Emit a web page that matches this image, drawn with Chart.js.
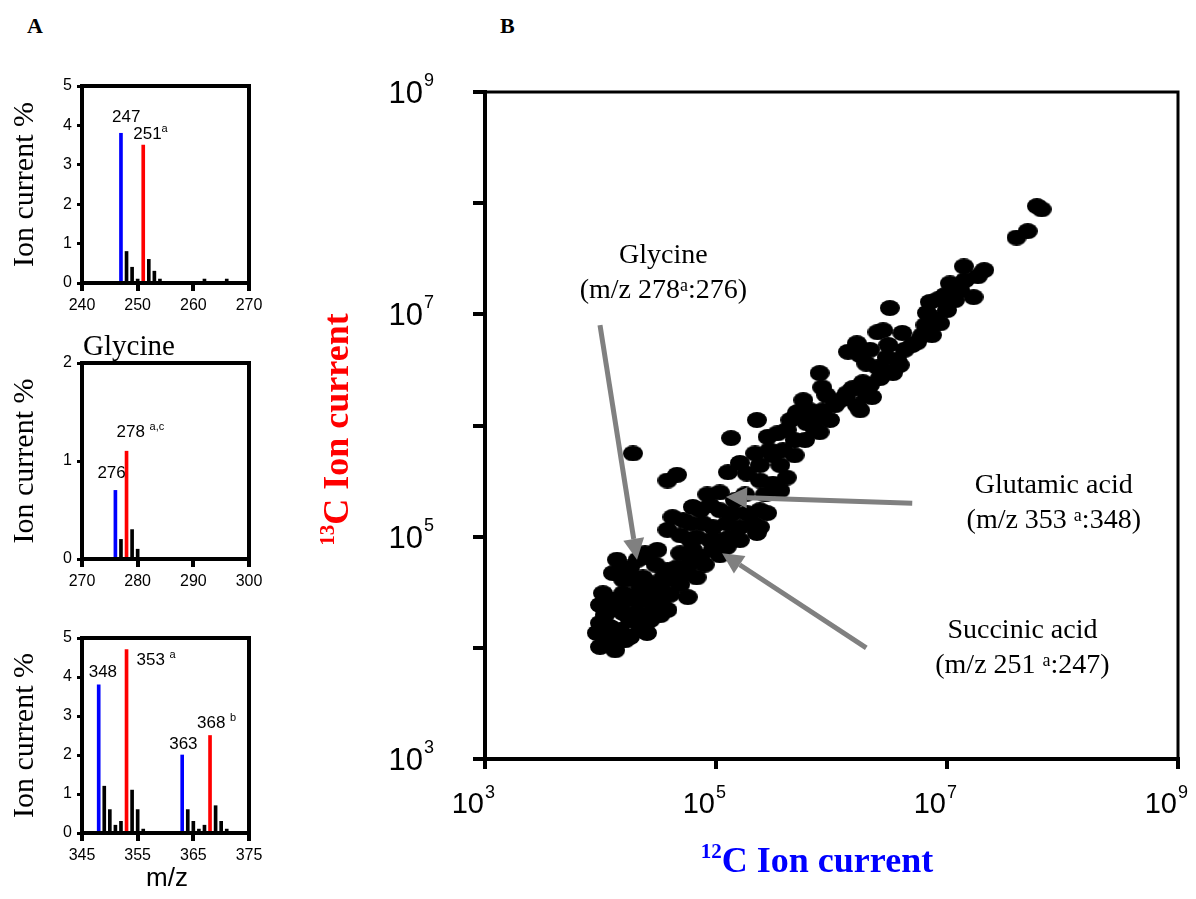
<!DOCTYPE html>
<html lang="en">
<head>
<meta charset="UTF-8" />
<title>12C / 13C ion current</title>
<style>
  body { margin: 0; background: #fff; width: 1196px; height: 899px; overflow: hidden; position: relative; }
  canvas { position: absolute; }
  .panel { position: absolute; font: bold 22px "Liberation Serif", "Times New Roman", serif; color: #000; }
</style>
</head>
<body>
<div class="panel" style="left:27px;top:13px">A</div>
<div class="panel" style="left:500px;top:13px">B</div>
<canvas id="a1" width="280" height="260" style="left:0;top:60px"></canvas>
<canvas id="a2" width="280" height="270" style="left:0;top:320px"></canvas>
<canvas id="a3" width="280" height="299" style="left:0;top:600px"></canvas>
<canvas id="b" width="906" height="899" style="left:290px;top:0"></canvas>

<script src="https://cdn.jsdelivr.net/npm/chart.js"></script>
<script>
// ---- panel A: isotope spectra (m/z, ion current %) ----
const succBlueMz = [247], succBlueY = [3.8];
const succRedMz = [251], succRedY = [3.5];
const succOtherMz = [248, 249, 250, 252, 253, 254, 262, 266];
const succOtherY = [0.8, 0.4, 0.1, 0.6, 0.3, 0.1, 0.1, 0.1];

const glyBlueMz = [276], glyBlueY = [0.7];
const glyRedMz = [278], glyRedY = [1.1];
const glyOtherMz = [277, 279, 280];
const glyOtherY = [0.2, 0.3, 0.1];

const gluBlueMz = [348, 363], gluBlueY = [3.8, 2.0];
const gluRedMz = [353, 368], gluRedY = [4.7, 2.5];
const gluOtherMz = [349, 350, 351, 352, 354, 355, 356, 364, 365, 366, 367, 369, 370, 371];
const gluOtherY = [1.2, 0.6, 0.2, 0.3, 1.1, 0.6, 0.1, 0.6, 0.3, 0.1, 0.2, 0.7, 0.3, 0.1];

// ---- panel B: 12C vs 13C ion current ----
const c12Current = [
  6.6e7, 6.0e7, 5.0e7, 4.0e7, 2.1e7, 1.4e7, 1.85e7, 1.06e7, 1.7e7, 1.3e7,
  7.1e6, 8.4e6, 1.0e7, 6.7e6, 8.7e6, 6.1e6, 7.4e6, 5.5e6, 3.2e6, 2.5e6,
  2.8e6, 4.1e6, 1.66e6, 1.39e6, 3.1e6, 3.0e6, 3.7e6, 2.8e6, 3.4e6, 2.5e6,
  2.0e6, 3.9e6, 7.9e5, 8.3e5, 1.87e6, 1.53e6, 1.36e6, 1.19e6, 2.0e6, 2.24e6,
  1.66e6, 1.77e6, 5.7e5, 5.1e5, 6.5e5, 8.4e5, 7.5e5, 6.1e5, 9.7e5, 2.26e5,
  1.35e5, 2.8e5, 3.4e5, 4.1e5, 5.0e5, 2.18e5, 3.1e5, 3.8e5, 1.91e4, 3.8e4,
  4.6e4, 1.27e5, 1.61e5, 1.85e5, 2.4e5, 3.1e5, 4.1e5, 3.6e5, 8.4e4, 1.08e5,
  6.3e4, 1.08e5, 1.4e5, 1.85e5, 2.4e5, 2.77e5, 4.2e4, 5.2e4, 3.8e4, 6.0e4,
  7.7e4, 9.4e4, 1.24e5, 1.61e5, 2.1e5, 2.4e5, 2.26e5, 6.8e4, 8.9e4, 1.08e5,
  1.32e5, 9.4e4, 1.24e5, 3.1e4, 2.43e4, 4.9e4, 6.3e4, 7.3e4, 6.0e4, 4.6e4,
  1.39e4, 1.8e4, 2.1e4, 2.53e4, 3.8e4, 3.5e4, 3.3e4, 4.2e4, 5.6e4, 6.8e4,
  1.28e4, 1.57e4, 1.91e4, 2.33e4, 2.7e4, 2.85e4, 2.2e4, 5.7e4, 1.05e4, 1.28e4,
  1.57e4, 1.91e4, 2.53e4, 3.3e4, 2.85e4, 3.8e4, 1.21e4, 1.57e4, 2.07e4, 1.8e4,
  2.33e4, 9.9e3, 1.21e4, 1.48e4, 9.3e3, 1.14e4, 1.39e4, 1.8e4, 2.53e4, 9.9e3,
  1.28e4, 5.9e5, 7.9e5, 4.8e5,
  1.07e6, 1.31e6, 2.15e6, 2.63e6, 4.3e6, 5.0e6, 2.15e6, 1.77e6, 1.17e7, 9.6e6,
  1.43e7, 6.5e6, 7.9e6, 9.0e5, 4.4e5, 7.2e5, 2.9e5, 2.4e5, 3.6e5, 4.8e5,
  7.3e4, 8.9e4, 1.46e5, 1.78e5, 2.66e5, 6.0e4, 4.9e4, 1.61e5, 1.08e5, 8.0e4,
  1.63e4, 3.0e4, 2.2e4, 1.48e4, 1.09e4, 2.7e4, 3.3e4, 1.34e4, 1.63e4, 2.2e4,
  9.9e3, 4.0e4, 4.9e4
];
const c13Current = [
  8.8e7, 9.4e7, 5.6e7, 4.9e7, 2.5e7, 2.7e7, 2.2e7, 1.9e7, 1.43e7, 1.65e7,
  1.29e7, 1.37e7, 1.09e7, 1.03e7, 8.3e6, 6.5e6, 6.5e6, 5.6e6, 1.14e7, 6.9e6,
  7.2e6, 6.8e6, 5.5e6, 4.6e6, 5.3e6, 4.1e6, 3.9e6, 3.15e6, 2.96e6, 3.35e6,
  3.6e6, 3.5e6, 2.96e6, 2.2e6, 2.45e6, 2.17e6, 1.95e6, 1.69e6, 1.88e6, 1.8e6,
  1.52e6, 1.37e6, 1.69e6, 1.32e6, 1.37e6, 1.37e6, 1.17e6, 1.05e6, 1.12e6, 1.12e6,
  7.7e5, 7.9e5, 8.5e5, 9.1e5, 1.29e6, 5.6e5, 5.4e5, 6.0e5, 5.6e5, 3.2e5,
  3.6e5, 3.8e5, 4.6e5, 3.7e5, 3.2e5, 3.0e5, 3.4e5, 2.6e5, 2.4e5, 2.5e5,
  1.85e5, 1.73e5, 1.63e5, 1.63e5, 1.73e5, 1.63e5, 1.5e5, 1.41e5, 1.15e5, 1.32e5,
  1.32e5, 1.22e5, 1.32e5, 1.22e5, 1.32e5, 1.22e5, 1.08e5, 9.9e4, 9.3e4, 9.3e4,
  9.9e4, 7.6e4, 8.1e4, 7.6e4, 7.1e4, 7.1e4, 7.6e4, 6.6e4, 5.8e4, 5.3e4,
  6.2e4, 5.3e4, 6.2e4, 6.6e4, 5.0e4, 4.3e4, 3.5e4, 4.1e4, 4.7e4, 4.3e4,
  4.7e4, 4.1e4, 4.1e4, 4.3e4, 3.8e4, 3.1e4, 3.3e4, 2.86e4, 3.1e4, 2.7e4,
  3.1e4, 2.7e4, 2.7e4, 2.53e4, 2.19e4, 2.19e4, 2.19e4, 2.06e4, 2.06e4, 1.78e4,
  1.78e4, 1.67e4, 1.54e4, 1.45e4, 1.36e4, 1.25e4, 1.17e4, 1.25e4, 1.36e4, 1.02e4,
  1.1e4, 7.4e5, 8.7e5, 5.4e5,
  1.52e6, 1.76e6, 2.31e6, 2.67e6, 4.8e6, 5.3e6, 4.8e6, 4.3e6, 1.34e7, 1.49e7,
  2.03e7, 8.0e6, 9.2e6, 1.88e6, 1.12e6, 9.1e5, 6.0e5, 4.4e5, 4.4e5, 7.4e5,
  1.73e5, 1.92e5, 2.13e5, 2.4e5, 2.4e5, 9.3e4, 1.03e5, 9.3e4, 6.8e4, 5.6e4,
  5.0e4, 5.6e4, 2.7e4, 2.43e4, 1.97e4, 1.78e4, 1.97e4, 9.5e3, 1.17e4, 1.45e4,
  2.43e4, 3.0e4, 3.7e4
];
const yTickVals = [1e3, 1e4, 1e5, 1e6, 1e7, 1e8, 1e9];
const xTickVals = [1e3, 1e5, 1e7, 1e9];
const labelExps = [3, 5, 7, 9];

const SANS = '"Liberation Sans", Arial, sans-serif';
const SERIF = '"Liberation Serif", "Times New Roman", serif';

// text with superscript pieces: parts = [[text, isSup], ...]
function richWidth(ctx, parts, f) {
  let w = 0;
  parts.forEach(p => { ctx.font = p[1] ? f.sup : f.main; w += ctx.measureText(p[0]).width; });
  return w;
}
function drawRich(ctx, parts, x, y, f, align) {
  const w = richWidth(ctx, parts, f);
  let cx = align === 'center' ? x - w / 2 : align === 'right' ? x - w : x;
  ctx.textAlign = 'left';
  ctx.textBaseline = 'alphabetic';
  parts.forEach(p => {
    ctx.font = p[1] ? f.sup : f.main;
    ctx.fillText(p[0], cx, p[1] ? y - f.raise : y);
    cx += ctx.measureText(p[0]).width;
  });
}

const axisTick = { color: '#000', font: { family: SANS, size: 16 } };

function spectrum(id, o) {
  const bars = (xs, ys, color) => ({
    data: xs.map((x, i) => ({ x: x, y: ys[i] })),
    backgroundColor: color,
    barThickness: 3,
    grouped: false
  });
  const decor = {
    id: 'decor_' + id,
    afterDraw(chart) {
      const { ctx, chartArea: a, scales: { x, y } } = chart;
      ctx.save();
      ctx.strokeStyle = '#000';
      ctx.lineWidth = 4;
      ctx.strokeRect(a.left, a.top, a.right - a.left, a.bottom - a.top);
      ctx.fillStyle = '#000';
      // y title
      ctx.save();
      ctx.translate(33, (a.top + a.bottom) / 2);
      ctx.rotate(-Math.PI / 2);
      ctx.font = '30px ' + SERIF;
      ctx.textAlign = 'center';
      ctx.textBaseline = 'alphabetic';
      ctx.fillText('Ion current %', 0, 0);
      ctx.restore();
      // peak labels
      const f = { main: '17px ' + SANS, sup: '11px ' + SANS, raise: 7 };
      o.labels.forEach(l => {
        const px = x.getPixelForValue(l.mz), py = y.getPixelForValue(l.v);
        drawRich(ctx, l.parts, px + l.dx, py + l.dy, f, 'left');
      });
      (o.texts || []).forEach(t => {
        ctx.font = t.font;
        ctx.textAlign = 'center';
        ctx.fillText(t.text, t.x, t.y);
      });
      ctx.restore();
    }
  };
  return new Chart(document.getElementById(id), {
    type: 'bar',
    data: {
      datasets: [
        bars(o.blue[0], o.blue[1], '#0000ff'),
        bars(o.red[0], o.red[1], '#ff0000'),
        bars(o.other[0], o.other[1], '#000000')
      ]
    },
    options: {
      responsive: false,
      animation: false,
      devicePixelRatio: 1,
      layout: { padding: o.pad },
      plugins: { legend: { display: false }, tooltip: { enabled: false } },
      scales: {
        x: {
          type: 'linear', min: o.xMin, max: o.xMin + 30, offset: false,
          ticks: Object.assign({ stepSize: 10, padding: 5, maxRotation: 0 }, axisTick),
          grid: { drawOnChartArea: false, offset: false, tickLength: 8, lineWidth: 4, color: '#000' },
          border: { width: 4, color: '#000' },
          afterFit: s => { s.height = 30; }
        },
        y: {
          min: 0, max: o.yMax,
          ticks: Object.assign({ stepSize: 1, padding: 5 }, axisTick),
          grid: { drawOnChartArea: false, tickLength: 5, lineWidth: 3, color: '#000' },
          border: { width: 4, color: '#000' },
          afterFit: s => { s.width = 30; }
        }
      }
    },
    plugins: [decor]
  });
}

spectrum('a1', {
  blue: [succBlueMz, succBlueY], red: [succRedMz, succRedY], other: [succOtherMz, succOtherY],
  xMin: 240, yMax: 5,
  pad: { left: 52, right: 31, top: 26, bottom: 7 },
  labels: [
    { mz: 247, v: 3.8, dx: -9, dy: -11, parts: [['247']] },
    { mz: 251, v: 3.5, dx: -10, dy: -6, parts: [['251'], ['a', 1]] }
  ]
});
spectrum('a2', {
  blue: [glyBlueMz, glyBlueY], red: [glyRedMz, glyRedY], other: [glyOtherMz, glyOtherY],
  xMin: 270, yMax: 2,
  pad: { left: 52, right: 31, top: 43, bottom: 1 },
  labels: [
    { mz: 276, v: 0.7, dx: -18, dy: -12, parts: [['276']] },
    { mz: 278, v: 1.1, dx: -10, dy: -14, parts: [['278 '], ['a,c', 1]] }
  ],
  texts: [{ text: 'Glycine', x: 129, y: 35, font: '29px ' + SERIF }]
});
spectrum('a3', {
  blue: [gluBlueMz, gluBlueY], red: [gluRedMz, gluRedY], other: [gluOtherMz, gluOtherY],
  xMin: 345, yMax: 5,
  pad: { left: 52, right: 31, top: 38, bottom: 36 },
  labels: [
    { mz: 348, v: 3.8, dx: -10, dy: -8, parts: [['348']] },
    { mz: 353, v: 4.7, dx: 10, dy: 15, parts: [['353 '], ['a', 1]] },
    { mz: 363, v: 2.0, dx: -13, dy: -6, parts: [['363']] },
    { mz: 368, v: 2.5, dx: -13, dy: -8, parts: [['368 '], ['b', 1]] }
  ],
  texts: [{ text: 'm/z', x: 167, y: 286, font: '26px ' + SANS }]
});

// ---- panel B ----
const dot = document.createElement('canvas');
dot.width = 20; dot.height = 16;
const dctx = dot.getContext('2d');
dctx.fillStyle = '#000';
dctx.beginPath();
dctx.ellipse(10, 8, 10, 8, 0, 0, Math.PI * 2);
dctx.fill();

const arrows = [
  { from: [9.9e3, 8.0e6], to: [2.07e4, 6.2e4] },
  { from: [5.0e6, 2.0e5], to: [1.22e5, 2.27e5] },
  { from: [2.0e6, 1.0e4], to: [1.13e5, 7.1e4] }
];
const notes = [
  { at: [3.5e4, 2.9e7], lines: [[['Glycine']], [['(m/z 278'], ['a', 1], [':276)']]] },
  { at: [8.4e7, 2.47e5], lines: [[['Glutamic acid']], [['(m/z 353 '], ['a', 1], [':348)']]] },
  { at: [4.5e7, 1.22e4], lines: [[['Succinic acid']], [['(m/z 251 '], ['a', 1], [':247)']]] }
];

function drawArrow(ctx, x1, y1, x2, y2) {
  const ang = Math.atan2(y2 - y1, x2 - x1), L = 21, W = 10.5;
  const bx = x2 - L * Math.cos(ang), by = y2 - L * Math.sin(ang);
  ctx.strokeStyle = ctx.fillStyle = '#808080';
  ctx.lineWidth = 5;
  ctx.beginPath(); ctx.moveTo(x1, y1); ctx.lineTo(bx, by); ctx.stroke();
  ctx.beginPath();
  ctx.moveTo(x2, y2);
  ctx.lineTo(bx - W * Math.sin(ang), by + W * Math.cos(ang));
  ctx.lineTo(bx + W * Math.sin(ang), by - W * Math.cos(ang));
  ctx.closePath();
  ctx.fill();
}

const bDecor = {
  id: 'bDecor',
  afterDatasetsDraw(chart) {
    const { ctx, scales: { x, y } } = chart;
    ctx.save();
    arrows.forEach(a => drawArrow(ctx,
      x.getPixelForValue(a.from[0]), y.getPixelForValue(a.from[1]),
      x.getPixelForValue(a.to[0]), y.getPixelForValue(a.to[1])));
    ctx.restore();
  },
  afterDraw(chart) {
    const { ctx, chartArea: a, scales: { x, y } } = chart;
    ctx.save();
    ctx.strokeStyle = '#000';
    ctx.lineWidth = 3;
    ctx.beginPath();
    ctx.moveTo(a.left, a.top); ctx.lineTo(a.right, a.top); ctx.lineTo(a.right, a.bottom);
    ctx.stroke();
    ctx.fillStyle = '#000';
    ctx.textBaseline = 'alphabetic';
    // tick labels 10^n
    labelExps.forEach(e => {
      const v = Math.pow(10, e);
      // y axis
      const py = y.getPixelForValue(v);
      ctx.font = '18px ' + SANS;
      const ew = ctx.measureText(String(e)).width;
      ctx.textAlign = 'right';
      ctx.fillText(String(e), a.left - 51, py - 6);
      ctx.font = '31px ' + SANS;
      ctx.fillText('10', a.left - 52 - ew, py + 11);
      // x axis
      const px = x.getPixelForValue(v);
      ctx.font = '29px ' + SANS;
      ctx.fillText('10', px - 1, a.bottom + 54);
      ctx.font = '18px ' + SANS;
      ctx.textAlign = 'left';
      ctx.fillText(String(e), px, a.bottom + 39);
    });
    // axis titles
    const tf = { main: 'bold 36px ' + SERIF, sup: 'bold 21px ' + SERIF, raise: 14 };
    ctx.fillStyle = '#0000ff';
    drawRich(ctx, [['12', 1], ['C Ion current']], a.left + 332, a.bottom + 113, tf, 'center');
    ctx.save();
    ctx.fillStyle = '#ff0000';
    ctx.translate(a.left - 137, (a.top + a.bottom) / 2 + 4);
    ctx.rotate(-Math.PI / 2);
    drawRich(ctx, [['13', 1], ['C Ion current']], 0, 0, tf, 'center');
    ctx.restore();
    // annotations
    ctx.fillStyle = '#000';
    const nf = { main: '28px ' + SERIF, sup: '18px ' + SERIF, raise: 7 };
    notes.forEach(n => {
      const nx = x.getPixelForValue(n.at[0]), ny = y.getPixelForValue(n.at[1]);
      n.lines.forEach((ln, i) => drawRich(ctx, ln, nx, ny + i * 35, nf, 'center'));
    });
    ctx.restore();
  }
};

new Chart(document.getElementById('b'), {
  type: 'scatter',
  data: {
    datasets: [{
      data: c12Current.map((v, i) => ({ x: v, y: c13Current[i] })),
      pointStyle: dot,
      pointRadius: 9,
      backgroundColor: '#000',
      borderWidth: 0
    }]
  },
  options: {
    responsive: false,
    animation: false,
    devicePixelRatio: 1,
    layout: { padding: { left: 183, right: 18, top: 92, bottom: 130 } },
    plugins: { legend: { display: false }, tooltip: { enabled: false } },
    scales: {
      x: {
        type: 'logarithmic', min: 1e3, max: 1e9,
        afterBuildTicks: s => { s.ticks = xTickVals.map(v => ({ value: v })); },
        ticks: { display: false },
        grid: { drawOnChartArea: false, tickLength: 10, lineWidth: 4, color: '#000' },
        border: { width: 4, color: '#000' },
        afterFit: s => { s.height = 10; }
      },
      y: {
        type: 'logarithmic', min: 1e3, max: 1e9,
        afterBuildTicks: s => { s.ticks = yTickVals.map(v => ({ value: v })); },
        ticks: { display: false },
        grid: { drawOnChartArea: false, tickLength: 12, lineWidth: 4, color: '#000' },
        border: { width: 4, color: '#000' },
        afterFit: s => { s.width = 12; }
      }
    }
  },
  plugins: [bDecor]
});
</script>
</body>
</html>
